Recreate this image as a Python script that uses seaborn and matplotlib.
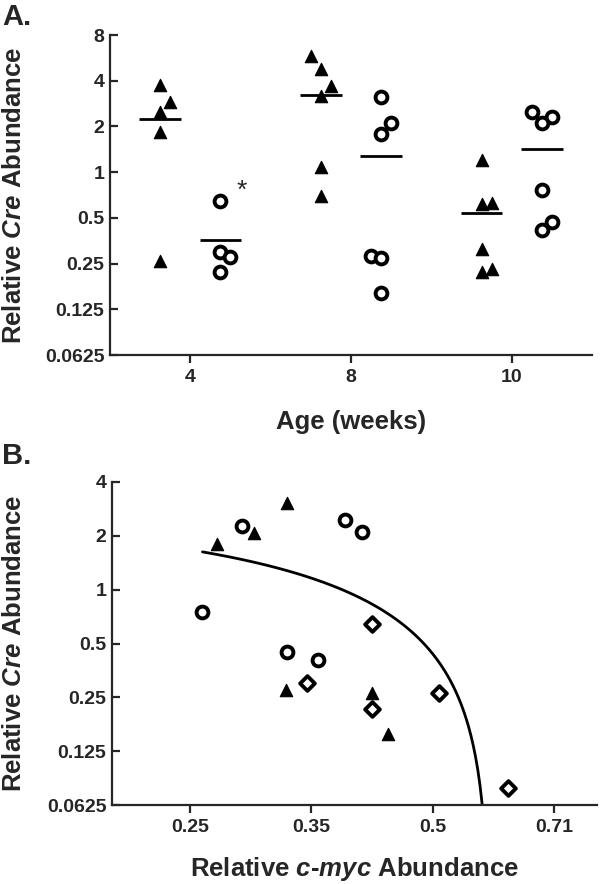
import numpy as np
import pandas as pd
import matplotlib
matplotlib.use("Agg")
import matplotlib.pyplot as plt
import seaborn as sns

# ---- panel A data: relative Cre abundance by age ----
ages = ["4", "8", "10"]
tri_4 = [3.73, 2.9, 2.48, 1.83, 0.26]
tri_8 = [5.8, 4.77, 3.68, 3.17, 1.08, 0.70]
tri_10 = [1.2, 0.63, 0.62, 0.31, 0.23, 0.22]
circ_4 = [0.645, 0.297, 0.275, 0.22]
circ_8 = [3.12, 2.1, 1.78, 0.28, 0.27, 0.16]
circ_10 = [2.49, 2.3, 2.1, 0.76, 0.47, 0.415]

# side shifts (in marker widths) so overlapping points stay visible
tri_shift = [[0, 1, 0, 0, 0], [-1, 0, 1, 0, 0, 0], [0, 1, 0, 0, 1, 0]]
circ_shift = [[0, 0, 1, 0], [0, 1, 0, -1, 0, 0], [-1, 1, 0, 0, 1, 0]]

# ---- panel B data: Cre vs c-myc abundance ----
circ_myc = [0.290, 0.259, 0.330, 0.389, 0.409, 0.360]
circ_cre = [2.28, 0.75, 0.45, 2.46, 2.11, 0.406]
tri_myc = [0.270, 0.300, 0.330, 0.329, 0.420, 0.440]
tri_cre = [1.79, 2.08, 3.07, 0.275, 0.266, 0.156]
dia_myc = [0.349, 0.420, 0.420, 0.509, 0.620]
dia_cre = [0.30, 0.64, 0.216, 0.266, 0.078]

y_ticks = [0.0625, 0.125, 0.25, 0.5, 1, 2, 4, 8]
y_labels = ["0.0625", "0.125", "0.25", "0.5", "1", "2", "4", "8"]
x_ticks_b = [0.25, 2 ** -1.5, 0.5, 2 ** -0.5]
x_labels_b = ["0.25", "0.35", "0.5", "0.71"]

sns.set_style("ticks")
plt.rcParams["font.family"] = ["Liberation Sans", "DejaVu Sans"]
plt.rcParams["font.weight"] = "bold"
plt.rcParams["axes.labelweight"] = "bold"
plt.rcParams["mathtext.fontset"] = "custom"
plt.rcParams["mathtext.rm"] = "Liberation Sans:bold"
plt.rcParams["mathtext.it"] = "Liberation Sans:italic:bold"

fig = plt.figure(figsize=(6, 8.84), dpi=100)
axA = fig.add_axes([110 / 600, 1 - 355 / 884, 482 / 600, 320 / 884])
axB = fig.add_axes([112 / 600, 1 - 805 / 884, 485 / 600, 323 / 884])

# build panel A table
rows = []
tri_groups = [tri_4, tri_8, tri_10]
circ_groups = [circ_4, circ_8, circ_10]
for i in range(3):
    for v, s in zip(tri_groups[i], tri_shift[i]):
        rows.append({"pos": i - 0.1875 + s * 0.0625, "cre": v, "kind": "triangle"})
    for v, s in zip(circ_groups[i], circ_shift[i]):
        rows.append({"pos": i + 0.1875 + s * 0.0625, "cre": v, "kind": "circle"})
dfA = pd.DataFrame(rows)

open_kw = dict(color="white", edgecolor="black", linewidth=2.8, legend=False, zorder=3)
fill_kw = dict(color="black", edgecolor="black", linewidth=0.8, legend=False, zorder=3)

axA.set_yscale("log", base=2)
sns.scatterplot(data=dfA[dfA.kind == "circle"], x="pos", y="cre", marker="o",
                s=72, ax=axA, **open_kw)
sns.scatterplot(data=dfA[dfA.kind == "triangle"], x="pos", y="cre", marker="^",
                s=80, ax=axA, **fill_kw)

# mean bars
for i in range(3):
    axA.hlines(np.mean(tri_groups[i]), i - 0.1875 - 0.13, i - 0.1875 + 0.13,
               color="black", lw=2)
    axA.hlines(np.mean(circ_groups[i]), i + 0.1875 - 0.13, i + 0.1875 + 0.13,
               color="black", lw=2)
axA.text(0.32, 0.75, "*", fontsize=19, fontweight="normal", ha="center", va="center")

axA.set_xlim(-0.5, 2.5)
axA.set_ylim(0.0625, 8)
axA.set_yticks(y_ticks)
axA.set_yticklabels(y_labels)
axA.minorticks_off()
axA.set_xticks([0, 1, 2])
axA.set_xticklabels(ages)
axA.set_xlabel("Age (weeks)", fontsize=18.5)
axA.set_ylabel(r"Relative $\mathit{Cre}$ Abundance", fontsize=18.5)
axA.xaxis.set_label_coords(0.5, -0.172)
axA.yaxis.set_label_coords(-0.174, 0.5)

# panel B
dfB = pd.DataFrame({
    "cmyc": circ_myc + tri_myc + dia_myc,
    "cre": circ_cre + tri_cre + dia_cre,
    "kind": ["circle"] * len(circ_myc) + ["triangle"] * len(tri_myc) + ["diamond"] * len(dia_myc),
})
axB.set_xscale("log", base=2)
axB.set_yscale("log", base=2)
sns.regplot(data=dfB, x="cmyc", y="cre", scatter=False, ci=None,
            color="black", line_kws={"lw": 2}, ax=axB)
sns.scatterplot(data=dfB[dfB.kind == "circle"], x="cmyc", y="cre", marker="o",
                s=72, ax=axB, **open_kw)
sns.scatterplot(data=dfB[dfB.kind == "diamond"], x="cmyc", y="cre", marker="D",
                s=56, ax=axB, **open_kw)
sns.scatterplot(data=dfB[dfB.kind == "triangle"], x="cmyc", y="cre", marker="^",
                s=80, ax=axB, **fill_kw)

axB.set_xlim(0.2, 0.8)
axB.set_ylim(0.0625, 4)
axB.set_yticks(y_ticks[:-1])
axB.set_yticklabels(y_labels[:-1])
axB.set_xticks(x_ticks_b)
axB.set_xticklabels(x_labels_b)
axB.minorticks_off()
axB.set_xlabel(r"Relative $\mathit{c}$-$\mathit{myc}$ Abundance", fontsize=18.5)
axB.set_ylabel(r"Relative $\mathit{Cre}$ Abundance", fontsize=18.5)
axB.xaxis.set_label_coords(0.5, -0.155)
axB.yaxis.set_label_coords(-0.177, 0.5)

for ax in (axA, axB):
    sns.despine(ax=ax)
    for sp in ("left", "bottom"):
        ax.spines[sp].set_linewidth(1.6)
    ax.tick_params(axis="y", direction="in", length=6, width=1.6, labelsize=14, pad=4)
    ax.tick_params(axis="x", direction="out", length=6, width=1.6, labelsize=14, pad=4)

fig.text(0.004, 0.997, "A.", fontsize=21, fontweight="bold", va="top", ha="left")
fig.text(0.004, 1 - 442 / 884, "B.", fontsize=21, fontweight="bold", va="top", ha="left")

fig.savefig("out.png", dpi=100)
